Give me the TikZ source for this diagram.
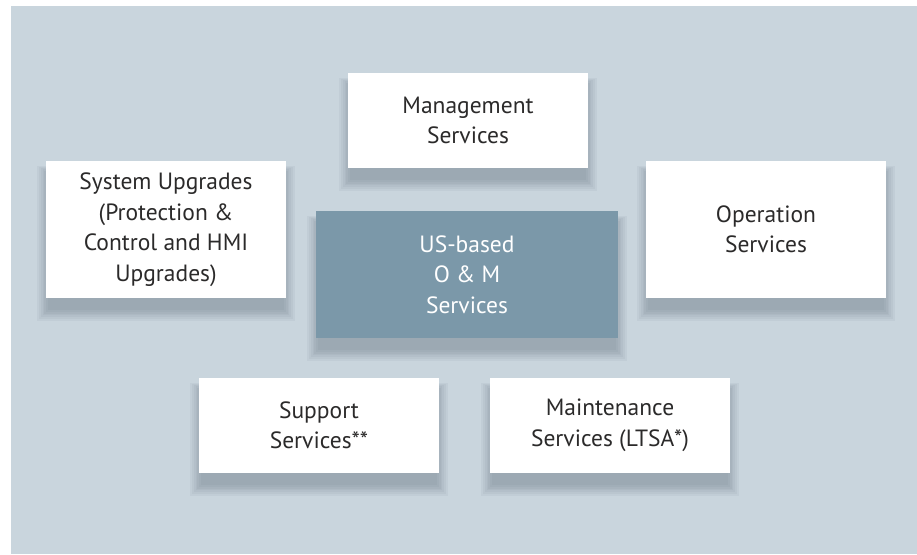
\documentclass[tikz,border=0pt]{standalone}
\usepackage{fontspec}
\setmainfont{PT Sans}
\definecolor{bgc}{HTML}{C9D5DD}
\definecolor{midc}{HTML}{7B98A9}
\definecolor{txtc}{HTML}{2B2A2A}
\definecolor{shc}{HTML}{5F6F7A}
\tikzset{
  box/.style={fill=white, text=txtc, align=center, inner sep=0pt,
    font=\fontsize{23.5}{30.5}\selectfont},
  midbox/.style={box, fill=midc, text=white},
}
\newcommand{\softshadow}[4]{%
  \foreach \r in {12,10,...,0}{
    \fill[shc, opacity=0.07] (#1-\r*0.9+2,#2-\r*0.6+12) rectangle (#3+\r*0.9-2,#4+\r*0.9+12);
  }%
}
\begin{document}
\begin{tikzpicture}[x=1pt,y=-1pt]
\useasboundingbox (0,0) rectangle (917,554);
\fill[bgc] (11,6) rectangle (917,554);
% shadows
\softshadow{348}{73}{588}{168}
\softshadow{46}{161}{286}{298}
\softshadow{316}{211}{618}{338}
\softshadow{646}{161}{886}{298}
\softshadow{199}{378}{439}{473}
\softshadow{490}{378}{730}{473}
% boxes
\node[box, minimum width=240pt, minimum height=95pt] (mgmt) at (468,120.5) {Management\\Services};
\node[box, minimum width=240pt, minimum height=137pt] (sys) at (166,229.5) {System Upgrades\\(Protection \&\\Control and HMI\\Upgrades)};
\node[midbox, minimum width=302pt, minimum height=127pt] (om) at (467,274.5) {US-based\\O \& M\\Services};
\node[box, minimum width=240pt, minimum height=137pt] (oper) at (766,229.5) {Operation\\Services};
\node[box, minimum width=240pt, minimum height=95pt] (supp) at (319,425.5) {Support\\Services**};
\node[box, minimum width=240pt, minimum height=95pt] (maint) at (610,425.5) {Maintenance\\Services (LTSA*)};
\end{tikzpicture}
\end{document}
